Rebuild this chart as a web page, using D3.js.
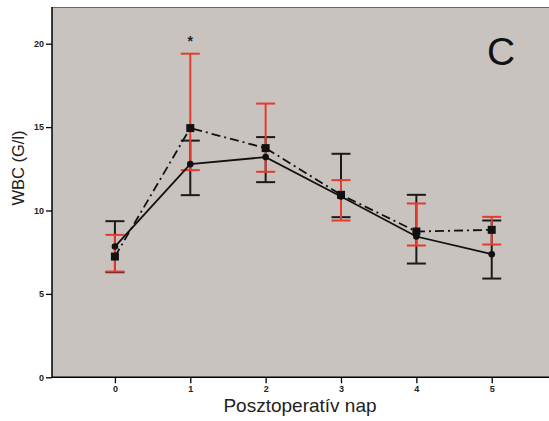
<!DOCTYPE html>
<html><head><meta charset="utf-8">
<script src="https://cdn.jsdelivr.net/npm/d3@7"></script>
<style>body{margin:0;background:#fff;}svg{display:block;font-family:Arial,"Liberation Sans",sans-serif;}</style>
</head><body><svg id="c" width="549" height="421"></svg>
<script>
const days = [0, 1, 2, 3, 4, 5];
const yTicks = [0, 5, 10, 15, 20];
// Series A: dash-dot line, squares, red error bars
const meanA = [7.24, 14.94, 13.74, 10.94, 8.74, 8.84];
const lowA  = [6.34, 12.42, 12.32, 9.40, 7.90, 7.96];
const highA = [8.54, 19.40, 16.41, 11.82, 10.42, 9.62];
// Series B: solid line, circles, black error bars
const meanB = [7.84, 12.78, 13.20, 10.84, 8.44, 7.38];
const lowB  = [6.30, 10.92, 11.70, 9.60, 6.82, 5.92];
const highB = [9.36, 14.19, 14.40, 13.40, 10.94, 9.40];
const sigDays = [1];
const sigY = [20.2];

const svg = d3.select("#c");
const m = {l:52, t:7, r:0, b:44};
const W = 549, H = 421;
const x = d3.scaleLinear().domain([-0.835, 5.76]).range([m.l, W - m.r]);
const y = d3.scaleLinear().domain([0, 22.2]).range([377.3, m.t]);

svg.append("rect").attr("x", m.l).attr("y", m.t).attr("width", W - m.l + 5).attr("height", 377.3 - m.t)
  .attr("fill", "#c8c3bf");
svg.append("line").attr("x1", m.l).attr("x2", W).attr("y1", m.t + 0.5).attr("y2", m.t + 0.5)
  .attr("stroke", "#6d6866").attr("stroke-width", 1.2);

const xa = svg.append("g").attr("transform", "translate(0,377.3)")
  .call(d3.axisBottom(x).tickValues(days).tickSize(6).tickPadding(2).tickFormat(d3.format("d")));
xa.select(".domain").attr("stroke", "#000").attr("stroke-width", 1.5).attr("d", `M${m.l},0H${W}`);
xa.selectAll(".tick line").attr("stroke", "#000").attr("stroke-width", 1.3);
xa.selectAll("text").attr("font-size", 9).attr("font-weight", "bold").attr("fill", "#222");

const ya = svg.append("g").attr("transform", `translate(${m.l},0)`)
  .call(d3.axisLeft(y).tickValues(yTicks).tickSize(6).tickPadding(2).tickFormat(d3.format("d")));
ya.select(".domain").attr("stroke", "#000").attr("stroke-width", 1.5).attr("d", `M0,${m.t}V377.3`);
ya.selectAll(".tick line").attr("stroke", "#000").attr("stroke-width", 1.3);
ya.selectAll("text").attr("font-size", 9).attr("font-weight", "bold").attr("fill", "#222");

svg.append("text").attr("transform", `translate(24,168) rotate(-90)`).attr("text-anchor", "middle")
  .attr("font-size", 16.5).attr("fill", "#222").text("WBC (G/l)");
svg.append("text").attr("x", 300).attr("y", 411.5).attr("text-anchor", "middle")
  .attr("font-size", 19).attr("fill", "#222").text("Posztoperatív nap");
svg.append("text").attr("x", 501).attr("y", 65).attr("text-anchor", "middle")
  .attr("font-size", 39).attr("fill", "#111").text("C");

function errBars(lo, hi, color, cw) {
  const g = svg.append("g").attr("stroke", color).attr("stroke-width", 2);
  days.forEach((d, i) => {
    const cx = x(d);
    g.append("line").attr("x1", cx).attr("x2", cx).attr("y1", y(lo[i])).attr("y2", y(hi[i]));
    g.append("line").attr("x1", cx - cw).attr("x2", cx + cw).attr("y1", y(lo[i])).attr("y2", y(lo[i]));
    g.append("line").attr("x1", cx - cw).attr("x2", cx + cw).attr("y1", y(hi[i])).attr("y2", y(hi[i]));
  });
}
errBars(lowB, highB, "#1a1a1a", 9.5);
errBars(lowA, highA, "#e8392f", 9.5);

const lineA = d3.line().x((d, i) => x(days[i])).y(d => y(d));
svg.append("path").attr("d", lineA(meanB)).attr("fill", "none").attr("stroke", "#111").attr("stroke-width", 1.8);
svg.append("path").attr("d", lineA(meanA)).attr("fill", "none").attr("stroke", "#111").attr("stroke-width", 1.8)
  .attr("stroke-dasharray", "9,4,2,4");

svg.append("g").selectAll("circle").data(meanB).join("circle")
  .attr("cx", (d, i) => x(days[i])).attr("cy", d => y(d)).attr("r", 3.3).attr("fill", "#111");
svg.append("g").selectAll("rect").data(meanA).join("rect")
  .attr("x", (d, i) => x(days[i]) - 4).attr("y", d => y(d) - 4).attr("width", 8).attr("height", 8).attr("fill", "#111");

svg.append("g").selectAll("text").data(sigDays).join("text")
  .attr("x", d => x(d)).attr("y", (d, i) => y(sigY[i]) + 6).attr("text-anchor", "middle")
  .attr("font-size", 14).attr("font-weight", "bold").attr("fill", "#222").text("*");
</script></body></html>
